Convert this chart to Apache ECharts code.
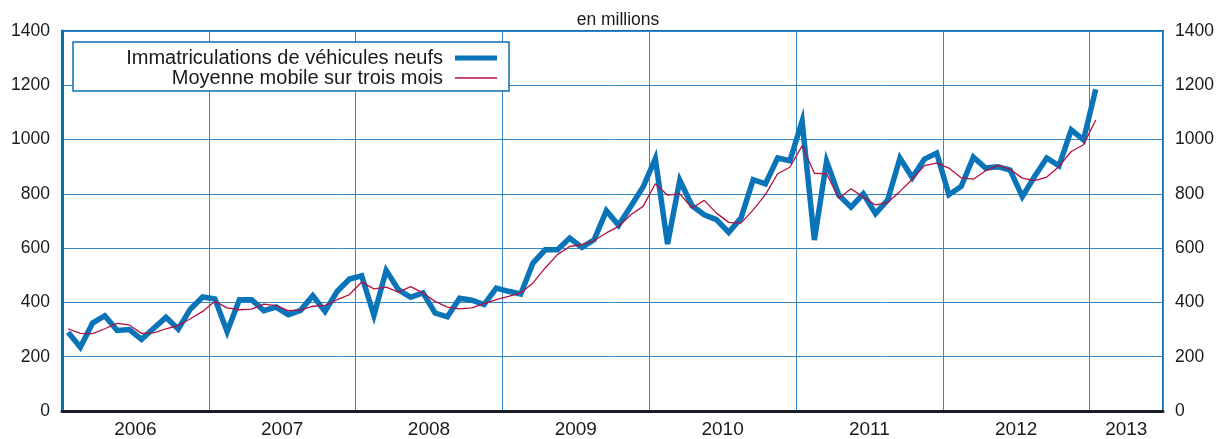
<!DOCTYPE html>
<html>
<head>
<meta charset="utf-8">
<title>Immatriculations de véhicules neufs</title>
<script src="https://cdn.jsdelivr.net/npm/echarts@6/dist/echarts.min.js"></script>
<style>
  html, body { margin: 0; padding: 0; background: #fff; }
  #chart { width: 1217px; height: 439px; }
</style>
</head>
<body>
<div id="chart"></div>
<script>
// x axis runs Jan 2006 -> Jun 2013, one category per month
const startYear = 2006;
const monthCount = 90;
const months = [];
for (let i = 0; i < monthCount; i++) {
  const y = startYear + Math.floor(i / 12);
  const m = (i % 12) + 1;
  months.push(y + "-" + (m < 10 ? "0" + m : m));
}

// year label is drawn at the middle of each year (2013 only half visible)
const yearLabelMonths = [6, 18, 30, 42, 54, 66, 78, 87];
const yearLabels = ["2006", "2007", "2008", "2009", "2010", "2011", "2012", "2013"];

const yTicks = [0, 200, 400, 600, 800, 1000, 1200, 1400];

// monthly registrations (millions), Jan 2006 -> Jan 2013
const registrations = [
  290, 235, 324, 351, 297, 300, 264, 305, 345, 302, 376, 420,
  413, 292, 410, 410, 370, 383, 355, 371, 425, 367, 441, 486,
  498, 352, 518, 447, 419, 435, 361, 347, 415, 408, 392, 453,
  441, 431, 545, 594, 594, 637, 603, 631, 738, 684, 754, 825,
  930, 615, 850, 756, 723, 705, 658, 711, 852, 837, 932, 922,
  1068, 630, 920, 795, 751, 800, 727, 778, 932, 860, 928, 950,
  797, 827, 935, 895, 900, 888, 790, 864, 932, 903, 1036, 999,
  1185,
];

// three-month moving average
const movingAverage = [
  303, 286, 285, 303, 323, 317, 286, 288, 303, 315, 340, 367,
  404, 380, 373, 375, 394, 388, 370, 372, 386, 389, 410, 429,
  475, 450, 456, 438, 458, 435, 404, 383, 376, 380, 396, 410,
  422, 435, 472, 527, 576, 606, 613, 628, 656, 680, 723, 754,
  837, 795, 800, 748, 776, 729, 695, 692, 741, 797, 874, 898,
  977, 876, 874, 784, 819, 788, 759, 768, 809, 854, 904, 913,
  895, 859, 854, 885, 905, 891, 858, 849, 862, 901, 956, 981,
  1072,
];

const seriesNames = [
  "Immatriculations de véhicules neufs",
  "Moyenne mobile sur trois mois",
];

const colors = {
  blue: "#0a74b9",
  red: "#b3123e",
  frame: "#0b6fb4",
  grid: "#3587c5",
  axisDark: "#1b1f29",
  text: "#1a1a1a",
};

const chart = echarts.init(document.getElementById("chart"), null, {
  renderer: "canvas",
});

const font = "'Liberation Sans', Arial, Helvetica, sans-serif";

const yAxisBase = {
  type: "value",
  min: yTicks[0],
  max: yTicks[yTicks.length - 1],
  interval: yTicks[1] - yTicks[0],
  axisTick: { show: false },
  axisLabel: {
    color: colors.text,
    fontSize: 17.5,
    fontFamily: font,
    margin: 12,
    formatter: (v) => String(v),
  },
};

const legendBase = {
  right: 720,
  padding: 0,
  align: "right",
  icon: "rect",
  itemWidth: 42,
  z: 60,
  textStyle: {
    color: colors.text,
    fontSize: 20,
    fontFamily: font,
    padding: [0, 7, 0, 0],
  },
};

const option = {
  animation: false,
  backgroundColor: "#fff",

  title: {
    text: "en millions",
    left: 613,
    top: 6,
    textAlign: "center",
    textStyle: {
      color: colors.text,
      fontSize: 17.5,
      fontWeight: "normal",
      fontFamily: font,
    },
  },

  // frame behind the two legend rows
  graphic: [
    {
      type: "rect",
      z: 50,
      shape: { x: 73, y: 42, width: 436, height: 49 },
      style: { fill: "#fff", stroke: colors.frame, lineWidth: 1.5 },
    },
  ],

  legend: [
    { ...legendBase, data: [seriesNames[0]], top: 48, itemHeight: 5 },
    { ...legendBase, data: [seriesNames[1]], top: 68, itemHeight: 1.5 },
  ],

  grid: {
    left: 62,
    right: 54,
    top: 31,
    bottom: 27.5,
    show: true,
    borderColor: colors.frame,
    borderWidth: 2,
  },

  xAxis: {
    type: "category",
    data: months,
    boundaryGap: true,
    axisLine: {
      lineStyle: { color: colors.axisDark, width: 3 },
    },
    axisTick: { show: false },
    axisLabel: {
      interval: (index) => yearLabelMonths.includes(index),
      formatter: (value, index) =>
        yearLabels[yearLabelMonths.indexOf(index)] || "",
      color: colors.text,
      fontSize: 19,
      fontFamily: font,
      margin: 9,
      padding: [0, 12.25, 0, 0],
    },
    splitLine: {
      show: true,
      interval: (index) => index % 12 === 0,
      lineStyle: { color: colors.grid, width: 1 },
    },
  },

  yAxis: [
    {
      ...yAxisBase,
      position: "left",
      axisLine: {
        show: true,
        lineStyle: { color: colors.frame, width: 3 },
      },
      splitLine: {
        lineStyle: { color: colors.grid, width: 1 },
      },
    },
    {
      ...yAxisBase,
      position: "right",
      axisLine: { show: false },
      splitLine: { show: false },
    },
  ],

  series: [
    {
      name: seriesNames[0],
      type: "line",
      data: registrations,
      showSymbol: false,
      symbol: "none",
      color: colors.blue,
      z: 3,
      lineStyle: {
        color: colors.blue,
        width: 5.5,
        join: "miter",
        miterLimit: 6,
      },
    },
    {
      name: seriesNames[1],
      type: "line",
      data: movingAverage,
      showSymbol: false,
      symbol: "none",
      color: colors.red,
      z: 4,
      lineStyle: {
        color: colors.red,
        width: 1.3,
      },
    },
  ],
};

chart.setOption(option);
</script>
</body>
</html>
